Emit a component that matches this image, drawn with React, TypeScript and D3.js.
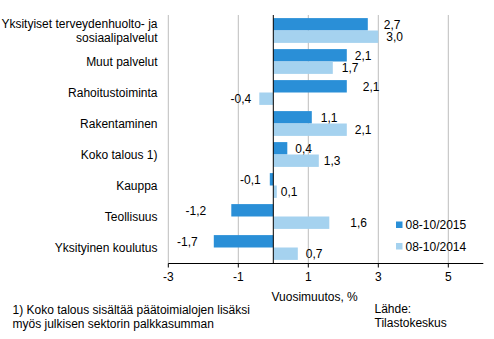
import React from "react";
import * as d3 from "d3";

const categories = [
  ["Yksityiset terveydenhuolto- ja", "sosiaalipalvelut"],
  ["Muut palvelut"],
  ["Rahoitustoiminta"],
  ["Rakentaminen"],
  ["Koko talous 1)"],
  ["Kauppa"],
  ["Teollisuus"],
  ["Yksityinen koulutus"],
];
const seriesNames = ["08-10/2015", "08-10/2014"];
const values2015 = [2.7, 2.1, 2.1, 1.1, 0.4, -0.1, -1.2, -1.7];
const values2014 = [3.0, 1.7, -0.4, 2.1, 1.3, 0.1, 1.6, 0.7];
const xTicks = [-3, -1, 1, 3, 5];
const colors = ["#2a8fd7", "#a5d2ef"];
// label gaps (layout nudges, px) from bar end
const gap2015 = [16, 8, 16, 9, 8, 9, 25, 16];
const gap2014 = [8, 9, 8, 8, 5, 4, 21, 8];

const W = 494;
const H = 339;
const FONT = "'Liberation Sans', Arial, sans-serif";

export default function App() {
  const x = d3.scaleLinear().domain([-3, 6]).range([168.3, 483.3]);
  const keys = categories.map((_, i) => String(i));
  const y = d3.scaleBand().domain(keys).range([15, 263]).paddingInner(0.2).paddingOuter(0.1);
  const sub = d3.scaleBand().domain(seriesNames).range([0, y.bandwidth()]);
  const series = [values2015, values2014];
  const gaps = [gap2015, gap2014];
  const fmt = (v: number) => d3.format(".1f")(v).replace(".", ",").replace("−", "-");
  const step = y.step();

  return (
    <svg width={W} height={H} style={{ position: "absolute", left: 0, top: 0, fontFamily: FONT }}>
      <rect width={W} height={H} fill="#fff" />
      {xTicks.map((t) => (
        <line key={"g" + t} x1={x(t)} x2={x(t)} y1={15} y2={263.5} stroke="#bdbdbd" strokeWidth={1} />
      ))}
      {series.map((vals, si) =>
        vals.map((v, i) => {
          const y0 = (y(String(i)) as number) + (sub(seriesNames[si]) as number);
          return (
            <rect
              key={si + "-" + i}
              x={Math.min(x(0), x(v))}
              y={y0}
              width={Math.abs(x(v) - x(0))}
              height={sub.bandwidth()}
              fill={colors[si]}
            />
          );
        })
      )}
      <line x1={x(0)} x2={x(0)} y1={15} y2={263.5} stroke="#000" strokeWidth={1} />
      <line x1={x(-3)} x2={x(6)} y1={263.5} y2={263.5} stroke="#000" strokeWidth={1} />
      {xTicks.map((t) => (
        <g key={"t" + t}>
          <line x1={x(t)} x2={x(t)} y1={263.5} y2={267.5} stroke="#000" />
          <text x={x(t)} y={281} textAnchor="middle" fontSize={12} fill="#000">
            {t < 0 ? "-" + Math.abs(t) : t}
          </text>
        </g>
      ))}
      {series.map((vals, si) =>
        vals.map((v, i) => {
          const yc = (y(String(i)) as number) + (sub(seriesNames[si]) as number) + sub.bandwidth() / 2;
          const g = gaps[si][i];
          return (
            <text
              key={"l" + si + "-" + i}
              x={v >= 0 ? x(v) + g : x(v) - g}
              y={yc + 4.3}
              textAnchor={v >= 0 ? "start" : "end"}
              fontSize={12}
              fill="#000"
            >
              {fmt(v)}
            </text>
          );
        })
      )}
      {categories.map((lines, i) => {
        const yc = (y(String(i)) as number) + y.bandwidth() / 2;
        const n = lines.length;
        return (
          <text key={"c" + i} x={157.5} textAnchor="end" fontSize={12} fill="#000">
            {lines.map((l, j) => (
              <tspan key={j} x={157.5} y={yc + 4.3 + (j - (n - 1) / 2) * 14}>
                {l}
              </tspan>
            ))}
          </text>
        );
      })}
      {seriesNames.map((s, i) => (
        <g key={"lg" + i}>
          <rect x={396} y={221.5 + i * 21.5} width={6.5} height={6.5} fill={colors[i]} />
          <text x={405.5} y={229.3 + i * 21.5} fontSize={12} fill="#000">
            {s}
          </text>
        </g>
      ))}
      <text x={271.5} y={301} fontSize={12} fill="#000">
        Vuosimuutos, %
      </text>
      <text x={374.5} y={313} fontSize={12} fill="#000">
        Lähde:
      </text>
      <text x={374.5} y={327} fontSize={12} fill="#000">
        Tilastokeskus
      </text>
      <text x={12.5} y={314} fontSize={12} fill="#000">
        1) Koko talous sisältää päätoimialojen lisäksi
      </text>
      <text x={12.5} y={328} fontSize={12} fill="#000">
        myös julkisen sektorin palkkasumman
      </text>
    </svg>
  );
}
